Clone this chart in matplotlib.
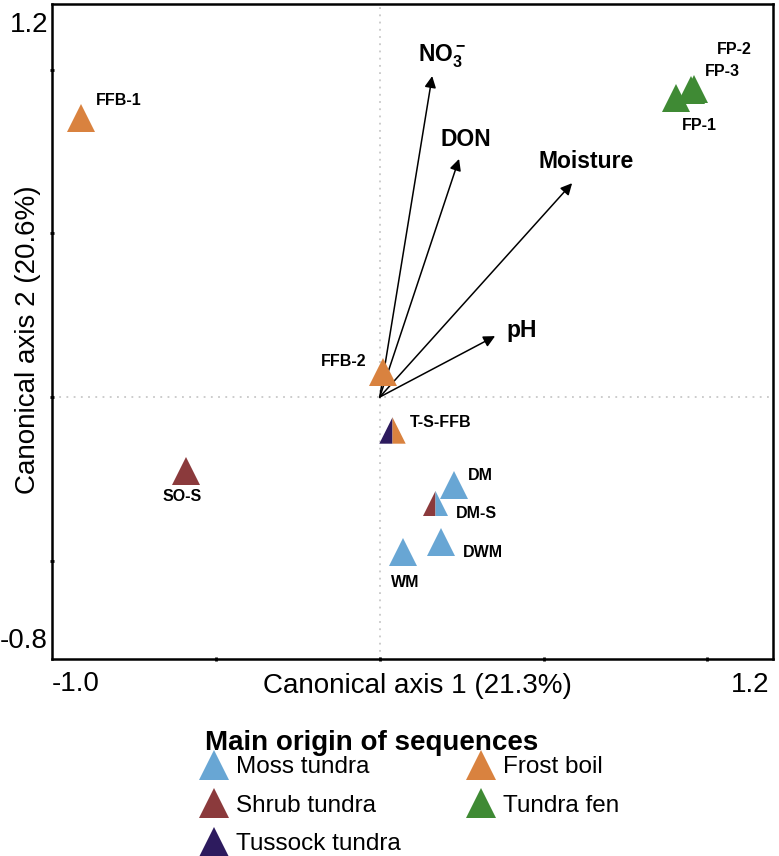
import matplotlib
matplotlib.use("Agg")
import matplotlib.pyplot as plt
from matplotlib.lines import Line2D

plt.rcParams['font.family'] = ['Liberation Sans', 'DejaVu Sans']
plt.rcParams['mathtext.fontset'] = 'custom'
plt.rcParams['mathtext.rm'] = 'Liberation Sans:bold'
plt.rcParams['mathtext.it'] = 'Liberation Sans:bold'
plt.rcParams['mathtext.bf'] = 'Liberation Sans:bold'

# ---------------- data ----------------
sites = ['FFB-1', 'FP-1', 'FP-2', 'FP-3', 'FFB-2', 'T-S-FFB', 'DM', 'DM-S', 'DWM', 'WM', 'SO-S']
axis1 = [-0.911, 0.904, 0.958, 0.950, 0.010, 0.0375, 0.227, 0.169, 0.187, 0.071, -0.591]
axis2 = [0.852, 0.913, 0.942, 0.938, 0.076, -0.100, -0.269, -0.324, -0.443, -0.473, -0.226]
# main origin (second entry for mixed samples)
origin_a = ['Frost boil', 'Tundra fen', 'Tundra fen', 'Tundra fen', 'Frost boil', 'Tussock tundra',
            'Moss tundra', 'Shrub tundra', 'Moss tundra', 'Moss tundra', 'Shrub tundra']
origin_b = [None, None, None, None, None, 'Frost boil', None, 'Moss tundra', None, None, None]

env_vars = [r'NO$_3^-$', 'DON', 'Moisture', 'pH']
env_axis1 = [0.160, 0.242, 0.587, 0.352]
env_axis2 = [0.980, 0.727, 0.653, 0.186]

groups = ['Moss tundra', 'Shrub tundra', 'Tussock tundra', 'Frost boil', 'Tundra fen']
colors = {'Moss tundra': '#68a6d4', 'Shrub tundra': '#8b3a3c', 'Tussock tundra': '#2d1b5e',
          'Frost boil': '#d9823f', 'Tundra fen': '#3f8a34'}

# ---------------- layout ----------------
site_label_pos = {'FFB-1': (-0.866, 0.904, 'left'), 'FP-1': (0.922, 0.828, 'left'),
                  'FP-2': (1.029, 1.060, 'left'), 'FP-3': (0.993, 0.995, 'left'),
                  'FFB-2': (-0.039, 0.107, 'right'), 'T-S-FFB': (0.092, -0.079, 'left'),
                  'DM': (0.270, -0.241, 'left'), 'DM-S': (0.233, -0.357, 'left'),
                  'DWM': (0.254, -0.476, 'left'), 'WM': (0.077, -0.565, 'center'),
                  'SO-S': (-0.603, -0.305, 'center')}
env_label_pos = [(0.117, 1.023, 'left', 'baseline'), (0.263, 0.785, 'center', 'center'),
                 (0.483, 0.718, 'left', 'center'), (0.388, 0.202, 'left', 'center')]
site_size = {'DM-S': 18, 'T-S-FFB': 19}

left_half = [(0, 1), (-1, -1), (0, -1), (0, 1)]
right_half = [(0, 1), (0, -1), (1, -1), (0, 1)]

fig = plt.figure(figsize=(7.79, 8.56), dpi=100)
ax = fig.add_axes([0.0668, 0.2301, 0.9255, 0.7652])
ax.set_xlim(-1.0, 1.2)
ax.set_ylim(-0.8, 1.2)

# reference lines
ax.axvline(0, color='#c8c8c8', lw=1.3, ls=(0, (1, 3)), zorder=0)
ax.axhline(0, color='#c8c8c8', lw=1.3, ls=(0, (1, 3)), zorder=0)

# environmental arrows
for name, ex, ey, pos in zip(env_vars, env_axis1, env_axis2, env_label_pos):
    ax.annotate('', xy=(ex, ey), xytext=(0, 0),
                arrowprops=dict(arrowstyle='-|>', color='black', lw=1.1,
                                mutation_scale=17, shrinkA=0, shrinkB=0), zorder=2)
    ax.text(pos[0], pos[1], name, ha=pos[2], va=pos[3], fontsize=16.5,
            fontweight='bold', zorder=4)

# samples
for s, x, y, a, b in zip(sites, axis1, axis2, origin_a, origin_b):
    ms = site_size.get(s, 19.5)
    if b is None:
        ax.plot(x, y, marker='^', ms=ms, color=colors[a], mew=0, ls='none', zorder=3)
    else:
        ax.plot(x, y, marker=left_half, ms=ms, color=colors[a], mew=0, ls='none', zorder=3)
        ax.plot(x, y, marker=right_half, ms=ms, color=colors[b], mew=0, ls='none', zorder=3)
    lx, ly, ha = site_label_pos[s]
    ax.text(lx, ly, s, ha=ha, va='center', fontsize=11.5, fontweight='bold', zorder=4)

# axes styling
for sp in ax.spines.values():
    sp.set_linewidth(1.8)
ax.set_xticks([-0.5, 0, 0.5, 1.0])
ax.set_yticks([-0.5, 0, 0.5, 1.0])
ax.set_xticklabels([])
ax.set_yticklabels([])
ax.tick_params(length=2.5, width=2, direction='inout')

ax.text(-1.012, 1.136, '1.2', ha='right', va='center', fontsize=20, clip_on=False)
ax.text(-1.012, -0.745, '-0.8', ha='right', va='center', fontsize=20, clip_on=False)
ax.text(-0.927, -0.876, '-1.0', ha='center', va='center', fontsize=20, clip_on=False)
ax.text(1.130, -0.879, '1.2', ha='center', va='center', fontsize=20, clip_on=False)
ax.text(0.114, -0.882, 'Canonical axis 1 (21.3%)', ha='center', va='center', fontsize=20,
        clip_on=False)
ax.text(-1.073, 0.174, 'Canonical axis 2 (20.6%)', ha='center', va='center', fontsize=20,
        rotation=90, clip_on=False)

# legend
fig.text(0.263, 0.132, 'Main origin of sequences', ha='left', va='center',
         fontsize=20, fontweight='bold')
handles = [Line2D([], [], marker='^', ms=21, color=colors[g], mew=0, ls='none') for g in groups]
leg = fig.legend(handles, groups, loc='upper left', bbox_to_anchor=(0.241, 0.1307), ncol=2,
                 frameon=False, fontsize=17.5, handletextpad=0.3, columnspacing=2.7,
                 labelspacing=0.68, handlelength=1.2, borderpad=0)

fig.savefig('out.png', dpi=100)
